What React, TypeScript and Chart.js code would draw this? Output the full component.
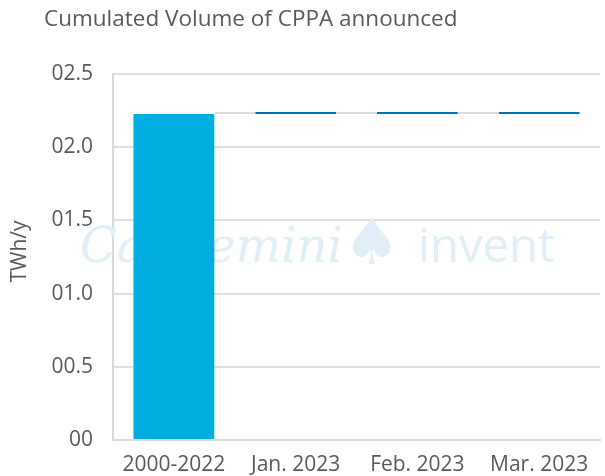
import React, { useEffect, useRef } from "react";
import { Chart, registerables } from "chart.js";

Chart.register(...registerables);

const categories = ["2000-2022", "Jan. 2023", "Feb. 2023", "Mar. 2023"];
const barStarts = [0, 2.227, 2.227, 2.227];
const barEnds = [2.227, 2.24, 2.24, 2.24];
const barColors = ["#00ADE0", "#0070B5", "#0070B5", "#0070B5"];
const yTickLabels: Record<string, string> = {
  "0": "00",
  "0.5": "00.5",
  "1": "01.0",
  "1.5": "01.5",
  "2": "02.0",
  "2.5": "02.5",
};
const titleText = "Cumulated Volume of CPPA announced";
const yTitle = "TWh/y";

const FONT = "'Open Sans', 'Noto Sans', sans-serif";

function fitText(ctx: any, text: string, style: string, family: string, x: number, y: number, width: number) {
  ctx.font = `${style} 60px ${family}`;
  const w = ctx.measureText(text).width;
  const size = (60 * width) / w;
  ctx.font = `${style} ${size}px ${family}`;
  ctx.fillText(text, x, y);
}

const overlayPlugin = {
  id: "overlay",
  beforeDatasetsDraw(chart: any) {
    const { ctx } = chart;
    ctx.save();
    ctx.fillStyle = "#e0eff8";
    ctx.textBaseline = "alphabetic";
    fitText(ctx, "Capgemini", "italic", "'DejaVu Serif', serif", 80, 262, 263);
    ctx.font = "64px 'DejaVu Sans', sans-serif";
    ctx.fillText("\u2660", 343, 264);
    fitText(ctx, "invent", "normal", "'Open Sans', sans-serif", 418, 262, 137);
    ctx.restore();
  },
  afterDatasetsDraw(chart: any) {
    const { ctx } = chart;
    const meta = chart.getDatasetMeta(0);
    ctx.save();
    ctx.fillStyle = "#d9d9d9";
    for (let i = 0; i < meta.data.length - 1; i++) {
      const a = meta.data[i];
      const b = meta.data[i + 1];
      const x1 = a.x + a.width / 2;
      const x2 = b.x - b.width / 2;
      const yTop = Math.min(b.y, b.base);
      ctx.fillRect(x1, yTop, x2 - x1, 2);
    }
    ctx.restore();
  },
  afterDraw(chart: any) {
    const { ctx } = chart;
    ctx.save();
    ctx.fillStyle = "#595959";
    ctx.font = "22.5px " + FONT;
    ctx.textBaseline = "middle";
    ctx.textAlign = "left";
    ctx.fillText(titleText, 44, 20);
    ctx.restore();
  },
};

export default function App() {
  const ref = useRef<HTMLCanvasElement | null>(null);
  useEffect(() => {
    if (!ref.current) return;
    const data = categories.map((_, i) => [barStarts[i], barEnds[i]]);
    const chart = new Chart(ref.current, {
      type: "bar",
      data: {
        labels: categories,
        datasets: [
          {
            data: data as any,
            backgroundColor: barColors,
            borderWidth: 0,
            categoryPercentage: 1,
            barPercentage: 0.664,
          },
        ],
      },
      plugins: [overlayPlugin],
      options: {
        animation: false,
        responsive: false,
        maintainAspectRatio: false,
        layout: { padding: { top: 74, right: 5, left: 0, bottom: 0 } },
        plugins: {
          legend: { display: false },
          tooltip: { enabled: false },
          title: { display: false },
        },
        scales: {
          x: {
            grid: { display: false },
            border: { display: true, color: "#d9d9d9", width: 2 },
            ticks: {
              color: "#595959",
              font: { family: FONT, size: 21 },
              padding: 4,
              maxRotation: 0,
              autoSkip: false,
            },
            afterFit(scale: any) {
              scale.height = 36;
            },
          },
          y: {
            min: 0,
            max: 2.5,
            ticks: {
              stepSize: 0.5,
              color: "#595959",
              font: { family: FONT, size: 21 },
              padding: 20,
              callback: (v: any) => yTickLabels[String(v)] ?? String(v),
            },
            grid: { color: "#dedede", lineWidth: 2, drawTicks: false },
            border: { display: true, color: "#d9d9d9", width: 2 },
            title: {
              display: true,
              text: "  " + yTitle,
              color: "#595959",
              font: { family: FONT, size: 21 },
              padding: { top: 7, bottom: 0 },
            },
            afterFit(scale: any) {
              scale.width = 113;
            },
          },
        },
      },
    });
    return () => chart.destroy();
  }, []);
  return (
    <div style={{ position: "fixed", left: 0, top: 0, width: 605, height: 476, background: "#fff" }}>
      <canvas ref={ref} width={605} height={476} style={{ width: 605, height: 476 }} />
    </div>
  );
}
